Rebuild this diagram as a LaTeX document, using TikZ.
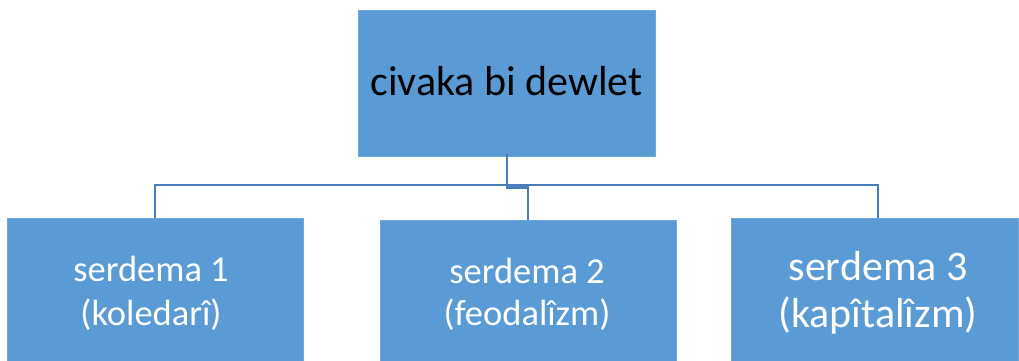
\documentclass[tikz,border=0pt]{standalone}
\usepackage{fontspec}
\setmainfont{Carlito}
\definecolor{boxfill}{HTML}{5B9BD5}
\definecolor{boxline}{HTML}{6FA8DC}
\definecolor{conn}{HTML}{4A7EBB}
\begin{document}
\begin{tikzpicture}[x=1pt,y=-1pt,
  box/.style={draw=boxline, fill=boxfill, line width=0.8pt, inner sep=0pt},
  conline/.style={draw=conn, line width=2.8pt},
  lbl/.style={inner sep=0pt, align=center}]
\useasboundingbox (0,0) rectangle (1019,360);
\clip (0,0) rectangle (1019,360);
\fill[white] (0,0) rectangle (1019,360);
% boxes
\node[box, minimum width=297pt, minimum height=146pt] (top) at (506.5,83) {};
\node[box, minimum width=296pt, minimum height=162pt] (b1) at (155,299) {};
\node[box, minimum width=296pt, minimum height=160pt] (b2) at (528,300) {};
\node[box, minimum width=287pt, minimum height=162pt] (b3) at (874.5,299) {};
% labels
\node[lbl, anchor=base, font=\fontsize{42}{50}\selectfont, text=black] (toplbl) at (506.5,95) {civaka bi dewlet};
\node[lbl, anchor=base, font=\fontsize{36.5}{44}\selectfont, text=white] (l1a) at (151,281) {serdema 1};
\node[lbl, anchor=base, font=\fontsize{36.5}{44}\selectfont, text=white] (l1b) at (151,325) {(koledarî)};
\node[lbl, anchor=base, font=\fontsize{36.5}{44}\selectfont, text=white] (l2a) at (527,283) {serdema 2};
\node[lbl, anchor=base, font=\fontsize{36.5}{44}\selectfont, text=white] (l2b) at (527,325) {(feodalîzm)};
\node[lbl, anchor=base, font=\fontsize{42}{50}\selectfont, text=white] (l3a) at (878,280) {serdema 3};
\node[lbl, anchor=base, font=\fontsize{42}{50}\selectfont, text=white] (l3b) at (878,327) {(kapîtalîzm)};
% connectors
\coordinate (hl) at (155,185);
\coordinate (hr) at (878,185);
\coordinate (jog1) at (507,187.5);
\coordinate (jog2) at (528,187.5);
\draw[conline] ([yshift=2pt]top.south -| jog1) -- (jog1) -- (jog2) -- (b2.north -| jog2);
\draw[conline] (b1.north) -- (hl) -- (hr) -- (b3.north -| hr);
\end{tikzpicture}
\end{document}
